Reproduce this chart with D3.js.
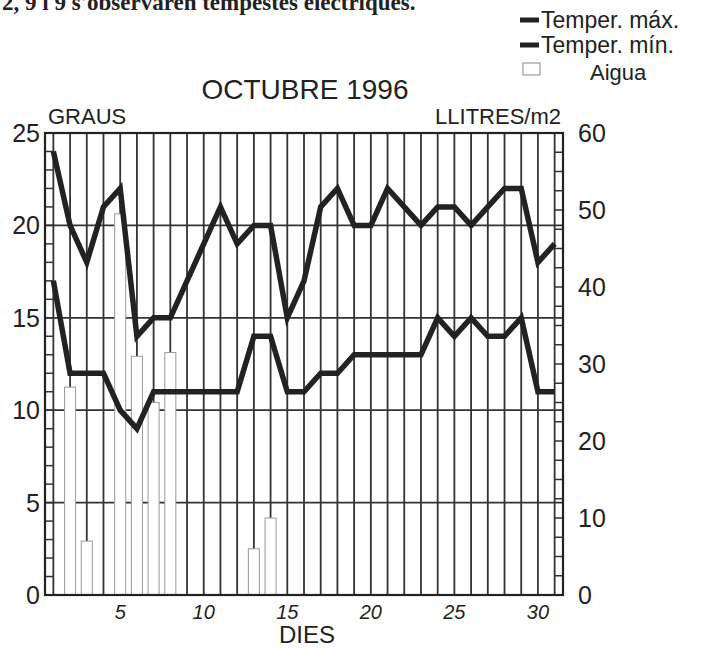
<!DOCTYPE html>
<html>
<head>
<meta charset="utf-8">
<script src="https://cdn.jsdelivr.net/npm/d3@7"></script>
<style>
  body { margin: 0; background: #fff; }
  #chart { width: 714px; height: 649px; }
  text { font-family: "Liberation Sans", Arial, sans-serif; fill: #222; }
</style>
</head>
<body>
<div id="chart"></div>
<script>
// dades llegides del gràfic
const days = [1,2,3,4,5,6,7,8,9,10,11,12,13,14,15,16,17,18,19,20,21,22,23,24,25,26,27,28,29,30,31];
const tMax = [24,20,18,21,22,14,15,15,17,19,21,19,20,20,15,17,21,22,20,20,22,21,20,21,21,20,21,22,22,18,19];
const tMin = [17,12,12,12,10,9,11,11,11,11,11,11,14,14,11,11,12,12,13,13,13,13,13,15,14,15,14,14,15,11,11];
const rainDays = [2,3,5,6,7,8,13,14];
const rainValues = [27,7,49.5,31,25,31.5,6,10];
const leftTicks = [0,5,10,15,20,25];
const rightTicks = [0,10,20,30,40,50,60];
const dayTicks = [5,10,15,20,25,30];

const width = 714, height = 649;
const margin = {top: 133, left: 45, right: 151, bottom: 54};

const canvas = d3.select("#chart")
    .append("svg")
    .attr("width", width)
    .attr("height", height);

const xScale = d3.scaleLinear()
    .domain([0.5, 31.5])
    .range([margin.left, width - margin.right]);

const yLeft = d3.scaleLinear()
    .domain([0, 25])
    .range([height - margin.bottom, margin.top]);

const yRight = d3.scaleLinear()
    .domain([0, 60])
    .range([height - margin.bottom, margin.top]);

const x0 = margin.left, x1 = width - margin.right;
const yTop = margin.top, yBot = height - margin.bottom;

// text de dalt (tallat a la imatge original)
canvas.append("text")
    .attr("x", 2)
    .attr("y", 10)
    .style("font-family", "'Liberation Serif', serif")
    .style("font-weight", "bold")
    .style("font-size", "23px")
    .text("2, 9 i 9 s'observaren tempestes elèctriques.");

// reixa vertical
canvas.append("g")
    .selectAll("line")
    .data(days)
    .enter()
    .append("line")
        .attr("x1", d => xScale(d))
        .attr("x2", d => xScale(d))
        .attr("y1", yTop)
        .attr("y2", yBot)
        .attr("stroke", "#333")
        .attr("stroke-width", 1.8);

// reixa horitzontal
canvas.append("g")
    .selectAll("line")
    .data([5, 10, 15, 20])
    .enter()
    .append("line")
        .attr("x1", x0)
        .attr("x2", x1)
        .attr("y1", d => yLeft(d))
        .attr("y2", d => yLeft(d))
        .attr("stroke", "#333")
        .attr("stroke-width", 1.8);

// barres d'aigua
const barW = (xScale(2) - xScale(1)) * 0.66;
canvas.append("g")
    .selectAll("rect")
    .data(rainDays)
    .enter()
    .append("rect")
        .attr("x", d => xScale(d) - barW / 2)
        .attr("y", (d, i) => yRight(rainValues[i]))
        .attr("width", barW)
        .attr("height", (d, i) => yBot - yRight(rainValues[i]))
        .attr("fill", "#fff")
        .attr("stroke", "#999")
        .attr("stroke-width", 1);

// marques petites als eixos
canvas.append("g")
    .selectAll("line")
    .data(d3.range(1, 25))
    .enter()
    .append("line")
        .attr("x1", x0)
        .attr("x2", xScale(1))
        .attr("y1", d => yLeft(d))
        .attr("y2", d => yLeft(d))
        .attr("stroke", "#333")
        .attr("stroke-width", 1.5);

canvas.append("g")
    .selectAll("line")
    .data(d3.range(2.5, 60, 2.5))
    .enter()
    .append("line")
        .attr("x1", xScale(31))
        .attr("x2", x1)
        .attr("y1", d => yRight(d))
        .attr("y2", d => yRight(d))
        .attr("stroke", "#333")
        .attr("stroke-width", 1.5);

// línies de temperatura
const line = d3.line()
    .x((d, i) => xScale(days[i]))
    .y(d => yLeft(d));

canvas.append("path")
    .datum(tMax)
    .attr("d", line)
    .attr("fill", "none")
    .attr("stroke", "#222")
    .attr("stroke-width", 5.5)
    .attr("stroke-linejoin", "miter");

canvas.append("path")
    .datum(tMin)
    .attr("d", line)
    .attr("fill", "none")
    .attr("stroke", "#222")
    .attr("stroke-width", 5.5)
    .attr("stroke-linejoin", "miter");

// marc
canvas.append("rect")
    .attr("x", x0)
    .attr("y", yTop)
    .attr("width", x1 - x0)
    .attr("height", yBot - yTop)
    .attr("fill", "none")
    .attr("stroke", "#222")
    .attr("stroke-width", 2.2);

// etiquetes eixos
canvas.append("g")
    .selectAll("text")
    .data(leftTicks)
    .enter()
    .append("text")
        .attr("x", 40)
        .attr("y", d => yLeft(d) + 9)
        .attr("text-anchor", "end")
        .style("font-size", "25px")
        .text(d => d);

canvas.append("g")
    .selectAll("text")
    .data(rightTicks)
    .enter()
    .append("text")
        .attr("x", 578)
        .attr("y", d => yRight(d) + 9)
        .style("font-size", "25px")
        .text(d => d);

canvas.append("g")
    .selectAll("text")
    .data(dayTicks)
    .enter()
    .append("text")
        .attr("x", d => xScale(d))
        .attr("y", yBot + 24)
        .attr("text-anchor", "middle")
        .style("font-size", "20px")
        .style("font-style", "italic")
        .text(d => d);

canvas.append("text")
    .attr("x", 307)
    .attr("y", 643)
    .attr("text-anchor", "middle")
    .style("font-size", "24px")
    .text("DIES");

canvas.append("text")
    .attr("x", 48)
    .attr("y", 124)
    .style("font-size", "22px")
    .text("GRAUS");

canvas.append("text")
    .attr("x", 561)
    .attr("y", 124)
    .attr("text-anchor", "end")
    .style("font-size", "22px")
    .text("LLITRES/m2");

canvas.append("text")
    .attr("x", 305)
    .attr("y", 99)
    .attr("text-anchor", "middle")
    .style("font-size", "28px")
    .text("OCTUBRE 1996");

// llegenda
const legend = canvas.append("g");
legend.append("line")
    .attr("x1", 520).attr("x2", 539)
    .attr("y1", 20).attr("y2", 20)
    .attr("stroke", "#222").attr("stroke-width", 5);
legend.append("text")
    .attr("x", 541).attr("y", 28)
    .style("font-size", "23px")
    .text("Temper. máx.");
legend.append("line")
    .attr("x1", 520).attr("x2", 539)
    .attr("y1", 45).attr("y2", 45)
    .attr("stroke", "#222").attr("stroke-width", 5);
legend.append("text")
    .attr("x", 541).attr("y", 53)
    .style("font-size", "23px")
    .text("Temper. mín.");
legend.append("rect")
    .attr("x", 523).attr("y", 63)
    .attr("width", 17).attr("height", 12)
    .attr("fill", "#fff").attr("stroke", "#888").attr("stroke-width", 1);
legend.append("text")
    .attr("x", 590).attr("y", 80)
    .style("font-size", "22px")
    .text("Aigua");
</script>
</body>
</html>
